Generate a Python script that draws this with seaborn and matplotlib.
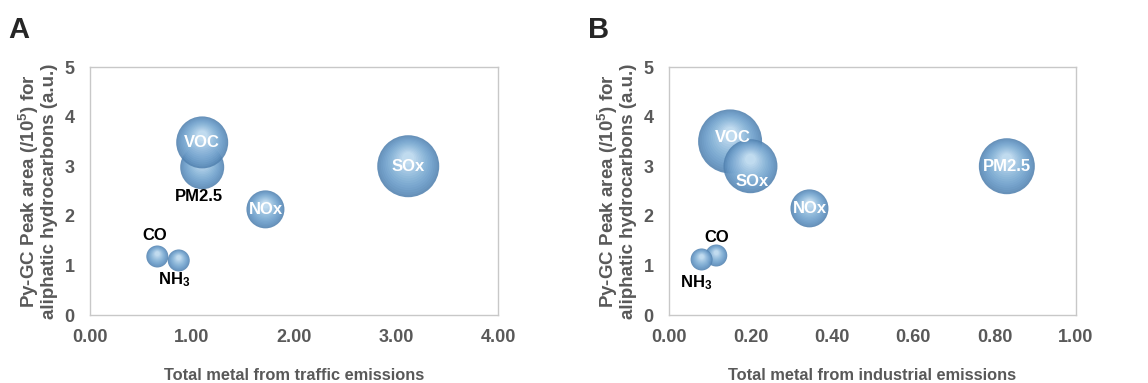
import numpy as np
import pandas as pd
import seaborn as sns
import matplotlib.pyplot as plt
from matplotlib.transforms import offset_copy
from matplotlib.colors import to_rgb

# pollutant labels
pollutants = ['CO', 'NH$_3$', 'NOx', 'PM2.5', 'VOC', 'SOx']

# panel A: traffic emissions
traffic_x = [0.66, 0.87, 1.72, 1.10, 1.10, 3.12]
traffic_y = [1.18, 1.10, 2.13, 2.98, 3.48, 3.00]
traffic_r = [11, 11, 19, 22, 26, 31]     # bubble radius (px)

# panel B: industrial emissions
indus_x = [0.116, 0.080, 0.345, 0.830, 0.150, 0.200]
indus_y = [1.20, 1.12, 2.15, 3.00, 3.50, 3.00]
indus_r = [11, 11, 19, 28, 32, 27]

xticks_a = [0, 1, 2, 3, 4]
xticks_b = [0, 0.2, 0.4, 0.6, 0.8, 1.0]
yticks = [0, 1, 2, 3, 4, 5]

sns.set_style('white')
plt.rcParams['font.family'] = ['Liberation Sans', 'DejaVu Sans']
plt.rcParams['font.weight'] = 'bold'
plt.rcParams['mathtext.default'] = 'regular'

gray = '#595959'
edge = np.array(to_rgb('#5282b0'))
base = np.array(to_rgb('#74a5d2'))
light = np.array(to_rgb('#d8ecfa'))

fig = plt.figure(figsize=(11.48, 3.83), dpi=100)
ax_a = fig.add_axes([0.0784, 0.1775, 0.3554, 0.6475])
ax_b = fig.add_axes([0.5828, 0.1775, 0.3545, 0.6475])


def bubble(ax, x, y, r):
    d = 2 * r * 0.72   # diameter in points
    sns.scatterplot(x=[x], y=[y], s=d ** 2, color=edge, alpha=0.88,
                    edgecolor='none', ax=ax, legend=False, zorder=3)
    n = 14
    for i in range(1, n + 1):
        f = 1 - 0.8 * i / n
        c = base + (light - base) * (i / n) ** 1.3
        tr = offset_copy(ax.transData, fig=fig, x=0, y=0.32 * r * 0.72 * (1 - f), units='points')
        sns.scatterplot(x=[x], y=[y], s=(d * f) ** 2, color=c, alpha=0.28,
                        edgecolor='none', ax=ax, legend=False, zorder=3, transform=tr)


def panel(ax, xs, ys, rs, xticks, xlabel, letter, outside, inside_off):
    df = pd.DataFrame({'name': pollutants, 'x': xs, 'y': ys, 'r': rs})
    for _, row in df.iterrows():
        bubble(ax, row.x, row.y, row.r)
    for _, row in df.iterrows():
        if row['name'] in outside:
            dx, dy = outside[row['name']]
            col = 'black'
        else:
            dx, dy = inside_off.get(row['name'], (0, 0))
            col = 'white'
        ax.annotate(row['name'], (row.x, row.y), xytext=(dx, dy), textcoords='offset points',
                    ha='center', va='center', fontsize=12, fontweight='bold', color=col, zorder=5)
    ax.set_xlim(xticks[0], xticks[-1])
    ax.set_ylim(0, 5)
    ax.set_xticks(xticks)
    ax.set_xticklabels(['{:.2f}'.format(t) for t in xticks])
    ax.set_yticks(yticks)
    ax.tick_params(axis='x', length=0, labelsize=13, labelcolor=gray, pad=10)
    ax.tick_params(axis='y', length=0, labelsize=13, labelcolor=gray, pad=11)
    for lab in ax.get_xticklabels() + ax.get_yticklabels():
        lab.set_fontweight('bold')
    for sp in ax.spines.values():
        sp.set_color('#c8c8c8')
        sp.set_linewidth(1.0)
    ax.set_xlabel(xlabel, fontsize=11.8, fontweight='bold', color=gray, labelpad=16)
    ax.set_ylabel('Py-GC Peak area (/10$^5$) for\naliphatic hydrocarbons (a.u.)',
                  fontsize=13.5, fontweight='bold', color=gray, labelpad=5, linespacing=1.0)
    ax.text(-0.2, 1.15, letter, transform=ax.transAxes, fontsize=21, fontweight='bold',
            ha='left', va='center')


panel(ax_a, traffic_x, traffic_y, traffic_r, xticks_a,
      'Total metal from traffic emissions', 'A',
      {'PM2.5': (-2, -21), 'CO': (-2, 15), 'NH$_3$': (-3, -14)}, {})
panel(ax_b, indus_x, indus_y, indus_r, xticks_b,
      'Total metal from industrial emissions', 'B',
      {'CO': (0, 13), 'NH$_3$': (-4, -17)}, {'SOx': (1, -11), 'VOC': (2, 3)})

fig.savefig('out.png', dpi=100)
